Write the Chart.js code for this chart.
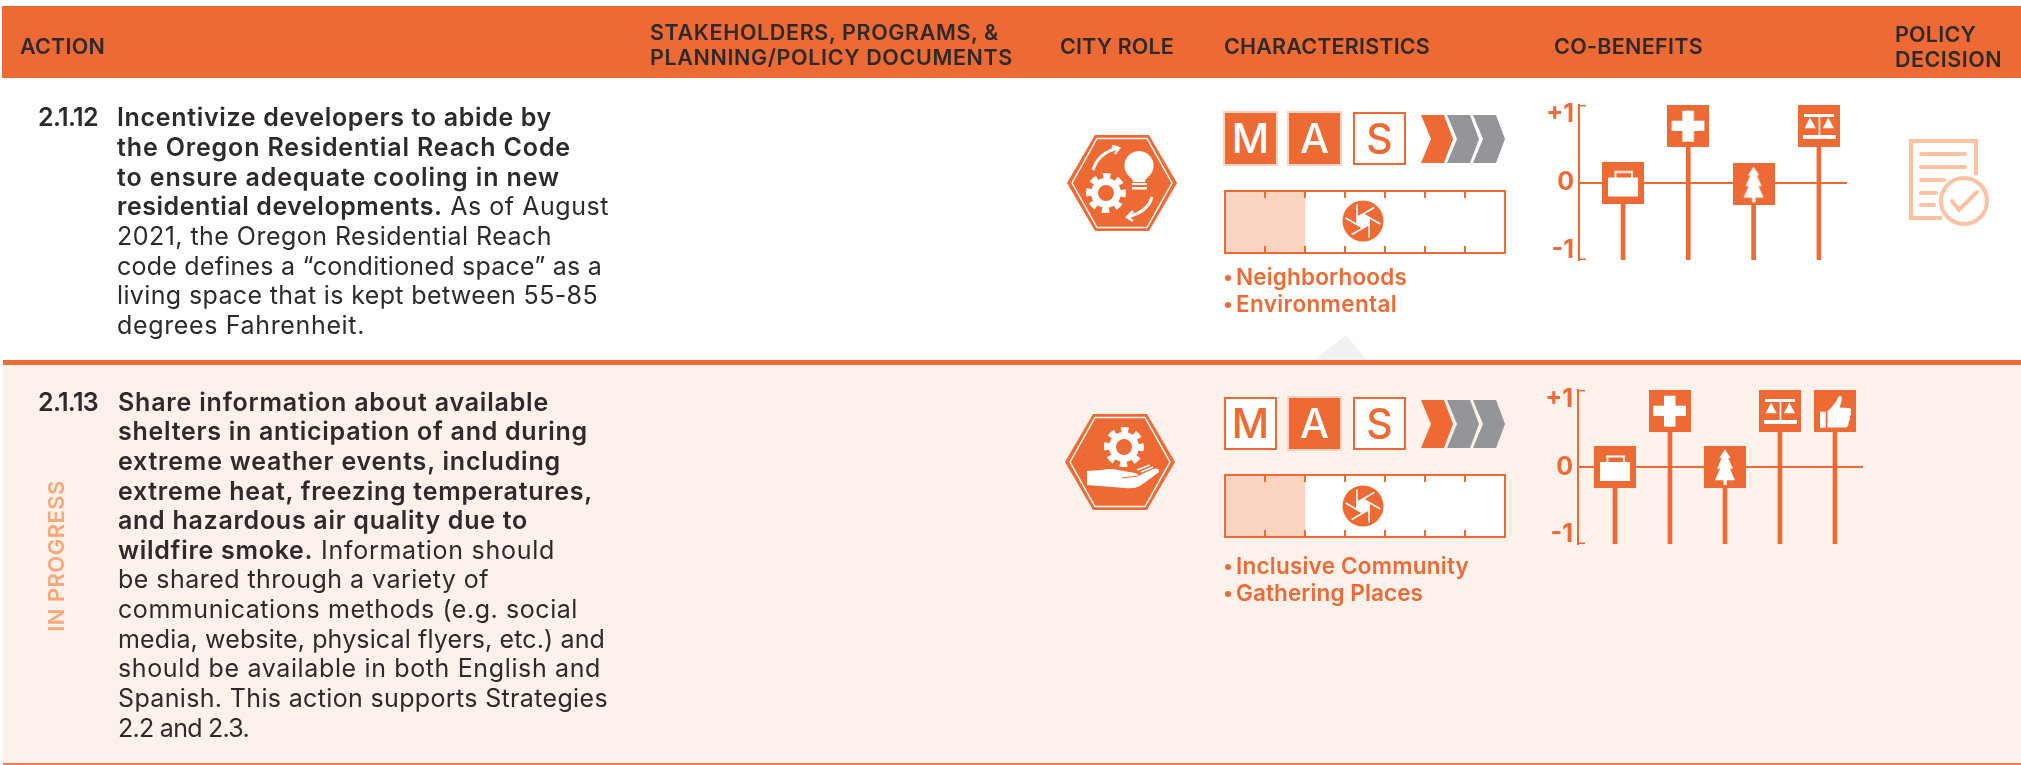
<!DOCTYPE html>
<html lang="en">
<head>
  <meta charset="UTF-8">
  <title>Action table</title>
  <script src="https://cdn.jsdelivr.net/npm/chart.js"></script>
  <style>
    html, body { margin: 0; padding: 0; background: #fff; }
    #page { position: relative; width: 2021px; height: 765px; overflow: hidden; font-family: Inter, "Open Sans", sans-serif; }
    #page > * { position: absolute; }
    .line { white-space: nowrap; line-height: 30px; height: 30px; color: #2e2a2b; font-size: 25px; font-weight: 400; }
    .line b { font-weight: 600; }
    .head { white-space: nowrap; line-height: 26px; height: 26px; color: #2e2a2b; font-size: 21.5px; font-weight: 600; }
    .tag { white-space: nowrap; line-height: 28px; height: 28px; color: #ee6a35; font-size: 22.5px; font-weight: 600; }
    .bullet { width: 6px; height: 6px; border-radius: 50%; background: #ee6a35; }
    .box { width: 49px; height: 49px; border: 2px solid #ee6a35; text-align: center; line-height: 49px; font-size: 41px; font-weight: 500; box-sizing: content-box; }
    .on { background: #ee6a35; color: #fff; outline: 2px solid #fad4c0; outline-offset: -1px; }
    .off { background: #fff; color: #ee6a35; }
    canvas { display: block; }
  </style>
</head>
<body>
  <div id="page">
    <div style="left:2px;top:6px;width:2019px;height:72px;background:#ee6a35"></div>
    <svg style="left:0;top:0" width="2021" height="765"><polygon points="1315,360 1346,335 1367,360" fill="#f1f1f1"/></svg>
    <div style="left:3px;top:365px;width:2018px;height:398px;background:#fcf1eb"></div>
    <div style="left:3px;top:360px;width:2018px;height:5px;background:#ee6a35"></div>
    <div style="left:3px;top:763px;width:2018px;height:2px;background:#ee7d4f"></div>
    <canvas id="benefits1" width="307" height="165" style="left:1540px;top:100px"></canvas>
    <canvas id="benefits2" width="324" height="164" style="left:1539px;top:385px"></canvas>
    <canvas id="gauge1" width="282" height="64" style="left:1224px;top:190px"></canvas>
    <canvas id="gauge2" width="282" height="64" style="left:1224px;top:474px"></canvas>
    <svg id="art" style="left:0;top:0" width="2021" height="765"></svg>
  </div>

  <script>
    // co-benefit scores
    const benefitCategories1 = ['Economy', 'Health', 'Environment', 'Equity'];
    const benefitValues1 = [0, 1, -0.025, 1];
    const benefitCategories2 = ['Economy', 'Health', 'Environment', 'Equity', 'Community'];
    const benefitValues2 = [0, 1, 0, 1, 1];
    const benefitTicks = [-1, 0, 1];

    // timeframe gauge, filled segments out of 7
    const gaugeLabels = ['Timeframe'];
    const gaugeValues1 = [2];
    const gaugeValues2 = [2];
    const gaugeSegments = 7;

    const headers = ['ACTION', 'STAKEHOLDERS, PROGRAMS, &', 'PLANNING/POLICY DOCUMENTS', 'CITY ROLE', 'CHARACTERISTICS', 'CO-BENEFITS', 'POLICY', 'DECISION'];
    const action1Bold = ['Incentivize developers to abide by', 'the Oregon Residential Reach Code', 'to ensure adequate cooling in new', 'residential developments.', '', '', '', ''];
    const action1Text = ['', '', '', ' As of August', '2021, the Oregon Residential Reach', 'code defines a “conditioned space” as a', 'living space that is kept between 55-85', 'degrees Fahrenheit.'];
    const action2Bold = ['Share information about available', 'shelters in anticipation of and during', 'extreme weather events, including', 'extreme heat, freezing temperatures,', 'and hazardous air quality due to', 'wildfire smoke.', '', '', '', '', '', ''];
    const action2Text = ['', '', '', '', '', ' Information should', 'be shared through a variety of', 'communications methods (e.g. social', 'media, website, physical flyers, etc.) and', 'should be available in both English and', 'Spanish. This action supports Strategies', '2.2 and 2.3.'];

    const orange = '#ee6a35';
    const page = document.getElementById('page');
    const art = document.getElementById('art');
    const lineHeights = { line: 30, head: 26, tag: 28 };

    // place one text line and stretch it to the width it has in the reference
    function addLine(cls, html, x, midY, right) {
      const el = document.createElement('div');
      el.className = cls;
      el.innerHTML = html;
      el.style.left = x + 'px';
      el.style.top = (midY - lineHeights[cls] / 2) + 'px';
      page.appendChild(el);
      const w = el.getBoundingClientRect().width;
      el.style.letterSpacing = ((right - x - w) / el.textContent.length) + 'px';
      return el;
    }

    addLine('head', headers[0], 20, 46, 105);
    addLine('head', headers[1], 650, 32, 999);
    addLine('head', headers[2], 650, 57, 1013);
    addLine('head', headers[3], 1060, 46, 1174);
    addLine('head', headers[4], 1224, 46, 1430);
    addLine('head', headers[5], 1554, 46, 1703);
    addLine('head', headers[6], 1895, 34, 1976);
    addLine('head', headers[7], 1895, 59, 2002);

    addLine('line', '<b>2.1.12</b>', 38, 117, 98);
    addLine('line', '<b>2.1.13</b>', 38, 402, 98);

    const action1Mid = [117, 147, 177, 206, 236, 266, 295, 325];
    const action1End = [552, 571, 560, 609, 552, 602, 598, 365];
    action1Bold.forEach((b, i) => addLine('line', (b ? '<b>' + b + '</b>' : '') + action1Text[i], 117, action1Mid[i], action1End[i]));

    const action2Mid = [402, 431, 461, 491, 520, 550, 579, 609, 639, 668, 698, 728];
    const action2End = [549, 588, 561, 593, 528, 555, 489, 578, 605, 601, 608, 249];
    action2Bold.forEach((b, i) => addLine('line', (b ? '<b>' + b + '</b>' : '') + action2Text[i], 118, action2Mid[i], action2End[i]));

    function addTag(text, midY, right) {
      const dot = document.createElement('div');
      dot.className = 'bullet';
      dot.style.left = '1225px';
      dot.style.top = (midY - 2) + 'px';
      page.appendChild(dot);
      addLine('tag', text, 1236, midY, right);
    }
    addTag('Neighborhoods', 277, 1407);
    addTag('Environmental', 304, 1397);
    addTag('Inclusive Community', 566, 1469);
    addTag('Gathering Places', 593, 1423);

    // vertical status label
    const status = document.createElement('div');
    status.textContent = 'IN PROGRESS';
    status.style.cssText = 'left:55.5px;top:556px;white-space:nowrap;color:#f8a878;font-size:22px;font-weight:600;letter-spacing:0.45px;transform:translate(-50%,-50%) rotate(-90deg);line-height:22px';
    page.appendChild(status);

    // M A S boxes
    function addBoxes(top, flags) {
      ['M', 'A', 'S'].forEach((letter, i) => {
        const el = document.createElement('div');
        el.className = 'box ' + (flags[i] ? 'on' : 'off');
        el.textContent = letter;
        el.style.left = [1224, 1288, 1353][i] + 'px';
        el.style.top = top + 'px';
        page.appendChild(el);
      });
    }
    addBoxes(112, [1, 1, 0]);
    addBoxes(397, [0, 1, 0]);

    // icons on the overlay
    function chevrons(top) {
      const bottom = top + 48, mid = top + 24;
      const shape = (x, fill) => `<polygon fill="${fill}" points="${x},${top} ${x + 23},${top} ${x + 32},${mid} ${x + 23},${bottom} ${x},${bottom} ${x + 10},${mid}"/>`;
      return shape(1421, orange) + shape(1447, '#939598') + shape(1473, '#939598');
    }
    function hexagon(l, r, t, b) {
      const m = (t + b) / 2, a = l + 28, c = r - 28;
      return `<polygon fill="${orange}" points="${l},${m} ${a},${t} ${c},${t} ${r},${m} ${c},${b} ${a},${b}"/>` +
        `<polygon fill="none" stroke="#fff" stroke-width="1.5" points="${l + 5},${m} ${a + 2},${t + 3.5} ${c - 2},${t + 3.5} ${r - 5},${m} ${c - 2},${b - 3.5} ${a + 2},${b - 3.5}"/>`;
    }
    function gear(x, y) {
      return `<circle cx="${x}" cy="${y}" r="16.5" fill="none" stroke="#fff" stroke-width="7" stroke-dasharray="6.9 6.06" transform="rotate(-11 ${x} ${y})"/>` +
        `<circle cx="${x}" cy="${y}" r="11.5" fill="none" stroke="#fff" stroke-width="7"/>`;
    }
    function shutter(x, y) {
      let s = `<circle cx="${x}" cy="${y}" r="20.5" fill="${orange}"/>`;
      const hex = [];
      for (let k = 0; k < 6; k++) {
        const a = (k * 60 - 90) * Math.PI / 180;
        const vx = x + 7 * Math.cos(a), vy = y + 7 * Math.sin(a);
        hex.push(vx + ',' + vy);
        const b = a + Math.PI * 2 / 3;
        s += `<line x1="${vx}" y1="${vy}" x2="${vx + 20 * Math.cos(b)}" y2="${vy + 20 * Math.sin(b)}" stroke="#fff" stroke-width="1.6"/>`;
      }
      return s + `<polygon points="${hex.join(' ')}" fill="#fff"/>`;
    }
    const arrowHead = (x1, y1, x2, y2, x3, y3) => `<polyline points="${x1},${y1} ${x2},${y2} ${x3},${y3}" fill="none" stroke="#fff" stroke-width="2.5"/>`;

    art.innerHTML =
      chevrons(115) + chevrons(400) +
      hexagon(1067, 1177, 135, 231) + hexagon(1065, 1175, 414, 510) +
      gear(1106, 193) + gear(1124, 447) +
      // bulb
      `<path fill="#fff" d="M1139,151 a14.5,14.5 0 0 1 9,26 q-3,2.5 -3,5 h-12 q0,-2.5 -3,-5 a14.5,14.5 0 0 1 9,-26 z"/>` +
      `<rect x="1132" y="183" width="15" height="2" fill="#fff"/><rect x="1132" y="187" width="15" height="2.5" fill="#fff"/>` +
      // cycle arrows
      `<path d="M1093,170 Q1098,153 1118,148" fill="none" stroke="#fff" stroke-width="3"/>` + arrowHead(1112, 146, 1119, 148, 1115, 154) +
      `<path d="M1152,197 Q1148,212 1127,217" fill="none" stroke="#fff" stroke-width="3"/>` + arrowHead(1133, 211, 1127, 217, 1133, 221) +
      // hand
      `<path fill="#fff" d="M1087,471 L1102,470 Q1110,468 1118,470 L1135,473 Q1139,474 1138,476 L1153,469 Q1159,467 1159,472 Q1150,479 1140,486 Q1134,489 1125,488 L1100,486 L1087,485 Z"/>` +
      `<path d="M1122,478 L1138,476 M1136,471 L1149,466" stroke="${orange}" stroke-width="1" fill="none"/>` +
      `<path d="M1137,470 L1150,465 M1141,472 L1153,467" stroke="#fff" stroke-width="1.6" fill="none"/>` +
      shutter(1363, 221) + shutter(1363, 506) +
      // policy decision icon
      `<g fill="none" stroke="#fcc2a4" stroke-width="4" stroke-linecap="round">` +
      `<polyline stroke-linecap="butt" points="1976,175 1976,141 1911,141 1911,218 1942,218"/>` +
      `<path d="M1921,154 H1965 M1921,167 H1965 M1921,180 H1944 M1921,193 H1936 M1921,205 H1934"/>` +
      `<circle cx="1964" cy="201" r="23"/><polyline points="1952,201 1959,210 1977,192"/></g>`;

    // white icons on an orange square, used as the point style of the co-benefit marks
    const iconPainters = {
      Economy(c) {
        c.fillRect(6, 16, 30, 19);
        c.fillRect(12.5, 9.5, 18, 2); c.fillRect(12.5, 9.5, 1.8, 6.5); c.fillRect(29, 9.5, 1.8, 6.5);
      },
      Health(c) {
        c.fillRect(15, 5.7, 11.5, 31); c.fillRect(4.3, 15.7, 32.7, 10.3);
      },
      Environment(c) {
        c.fill(new Path2D('M21,3.3 L26.7,12 L24.3,12 L29,22.7 L26,22.7 L31,34.3 L22.8,34.3 L22.8,39 L19.5,39 L19.5,34.3 L11,34.3 L16,22.7 L13,22.7 L17.7,12 L15.3,12 Z'));
      },
      Equity(c) {
        c.fillRect(6, 9, 30, 3); c.fillRect(5, 30, 33, 4); c.fillRect(20.7, 12, 1.6, 18);
        c.fill(new Path2D('M12,12.5 L17.7,23.3 L6.7,23.3 Z M30.3,12.5 L36,23.3 L25,23.3 Z'));
      },
      Community(c) {
        c.fillRect(6, 21.7, 5.7, 16);
        c.fill(new Path2D('M13.5,37.5 L13.5,21 C17,19 20,14 23,10 C24,7 25,5.5 26.5,6 C28.5,6.5 28,10 27,13 L25.5,17.5 L35,18 C37.5,18 37.5,21 36.5,22 C37.5,23.5 37,26 35.5,26.5 C36.5,28 36,31 34.5,31.5 C35,34 34,37 32,37.5 Z'));
      }
    };

    // a +1 mark hangs below the top of the axis, so its canvas gets an empty upper half
    function iconFor(name, value) {
      const size = 42;
      const hang = value > 0.5;
      const cv = document.createElement('canvas');
      cv.width = size;
      cv.height = hang ? size * 2 : size;
      const c = cv.getContext('2d');
      if (hang) c.translate(0, size);
      c.fillStyle = orange;
      c.fillRect(0, 0, size, size);
      c.fillStyle = '#fff';
      iconPainters[name](c);
      return cv;
    }

    const bracket = {
      id: 'bracket',
      afterDraw(chart) {
        const c = chart.ctx, y = chart.scales.y, left = chart.chartArea.left;
        c.save();
        c.strokeStyle = orange;
        c.lineWidth = 1.5;
        [-1, 1].forEach(v => {
          const p = y.getPixelForValue(v) + (v > 0 ? 0.75 : -0.75);
          c.beginPath();
          c.moveTo(left, p);
          c.lineTo(left + 7, p);
          c.stroke();
        });
        c.restore();
      }
    };

    function benefitChart(id, categories, values, xMin, xMax) {
      const points = values.map((v, i) => ({ x: i + 1, y: v }));
      return new Chart(document.getElementById(id), {
        type: 'bar',
        data: {
          datasets: [
            {
              type: 'line',
              label: 'Score',
              data: points,
              showLine: false,
              pointStyle: categories.map((name, i) => iconFor(name, values[i])),
              pointRadius: 10,
              clip: false,
              order: 1
            },
            {
              label: 'Stem',
              data: values.map((v, i) => ({ x: i + 1, y: [-1, v] })),
              backgroundColor: orange,
              barThickness: 4,
              order: 2
            }
          ]
        },
        options: {
          responsive: false,
          animation: false,
          layout: { autoPadding: false, padding: { top: 5, bottom: 5, left: 0, right: 0 } },
          plugins: { legend: { display: false }, tooltip: { enabled: false } },
          scales: {
            x: { type: 'linear', display: false, offset: false, min: xMin, max: xMax },
            y: {
              min: -1,
              max: 1,
              weight: 1,
              border: { display: true, color: orange, width: 2 },
              grid: {
                drawTicks: false,
                lineWidth: 2,
                color: ctx => ctx.tick.value === 0 ? orange : 'rgba(0,0,0,0)'
              },
              ticks: { display: false, stepSize: 1 },
              afterFit: s => { s.width = 0; }
            },
            // the printed labels sit inside the bracket ends, so they get their own wider axis
            yLabels: {
              position: 'left',
              min: -1.14,
              max: 1.14,
              weight: 2,
              border: { display: false },
              grid: { display: false, drawTicks: false },
              afterBuildTicks: s => { s.ticks = benefitTicks.map(v => ({ value: v })); },
              ticks: {
                color: orange,
                padding: 5,
                font: { family: 'Inter', size: 25, weight: '700' },
                callback: v => v > 0 ? '+' + v : v
              },
              afterFit: s => { s.width = 39; s.paddingTop = 0; s.paddingBottom = 0; }
            }
          }
        },
        plugins: [bracket]
      });
    }

    benefitChart('benefits1', benefitCategories1, benefitValues1, 0.326, 4.43);
    benefitChart('benefits2', benefitCategories2, benefitValues2, 0.327, 5.51);

    const gaugeFrame = {
      id: 'gaugeFrame',
      afterDatasetsDraw(chart) {
        const c = chart.ctx, x = chart.scales.x, a = chart.chartArea;
        c.save();
        c.strokeStyle = orange;
        c.lineWidth = 2;
        c.strokeRect(a.left, a.top, a.right - a.left, a.bottom - a.top);
        x.ticks.forEach(t => {
          const p = x.getPixelForValue(t.value);
          c.beginPath();
          c.moveTo(p, a.top);
          c.lineTo(p, a.top + 7);
          c.moveTo(p, a.bottom - 7);
          c.lineTo(p, a.bottom);
          c.stroke();
        });
        c.restore();
      }
    };

    function gaugeChart(id, values) {
      return new Chart(document.getElementById(id), {
        type: 'bar',
        data: {
          labels: gaugeLabels,
          datasets: [{ data: values, backgroundColor: '#fad4c0', barPercentage: 1, categoryPercentage: 1 }]
        },
        options: {
          indexAxis: 'y',
          responsive: false,
          animation: false,
          layout: { padding: 1 },
          plugins: {
            legend: { display: false },
            tooltip: { enabled: false }
          },
          scales: {
            x: { display: false, min: 0, max: gaugeSegments, ticks: { stepSize: 1 } },
            y: { display: false }
          }
        },
        plugins: [{ id: 'gaugeBg', beforeDraw(chart) { const a = chart.chartArea; chart.ctx.fillStyle = '#fff'; chart.ctx.fillRect(a.left, a.top, a.right - a.left, a.bottom - a.top); } }, gaugeFrame]
      });
    }

    gaugeChart('gauge1', gaugeValues1);
    gaugeChart('gauge2', gaugeValues2);
  </script>
</body>
</html>
